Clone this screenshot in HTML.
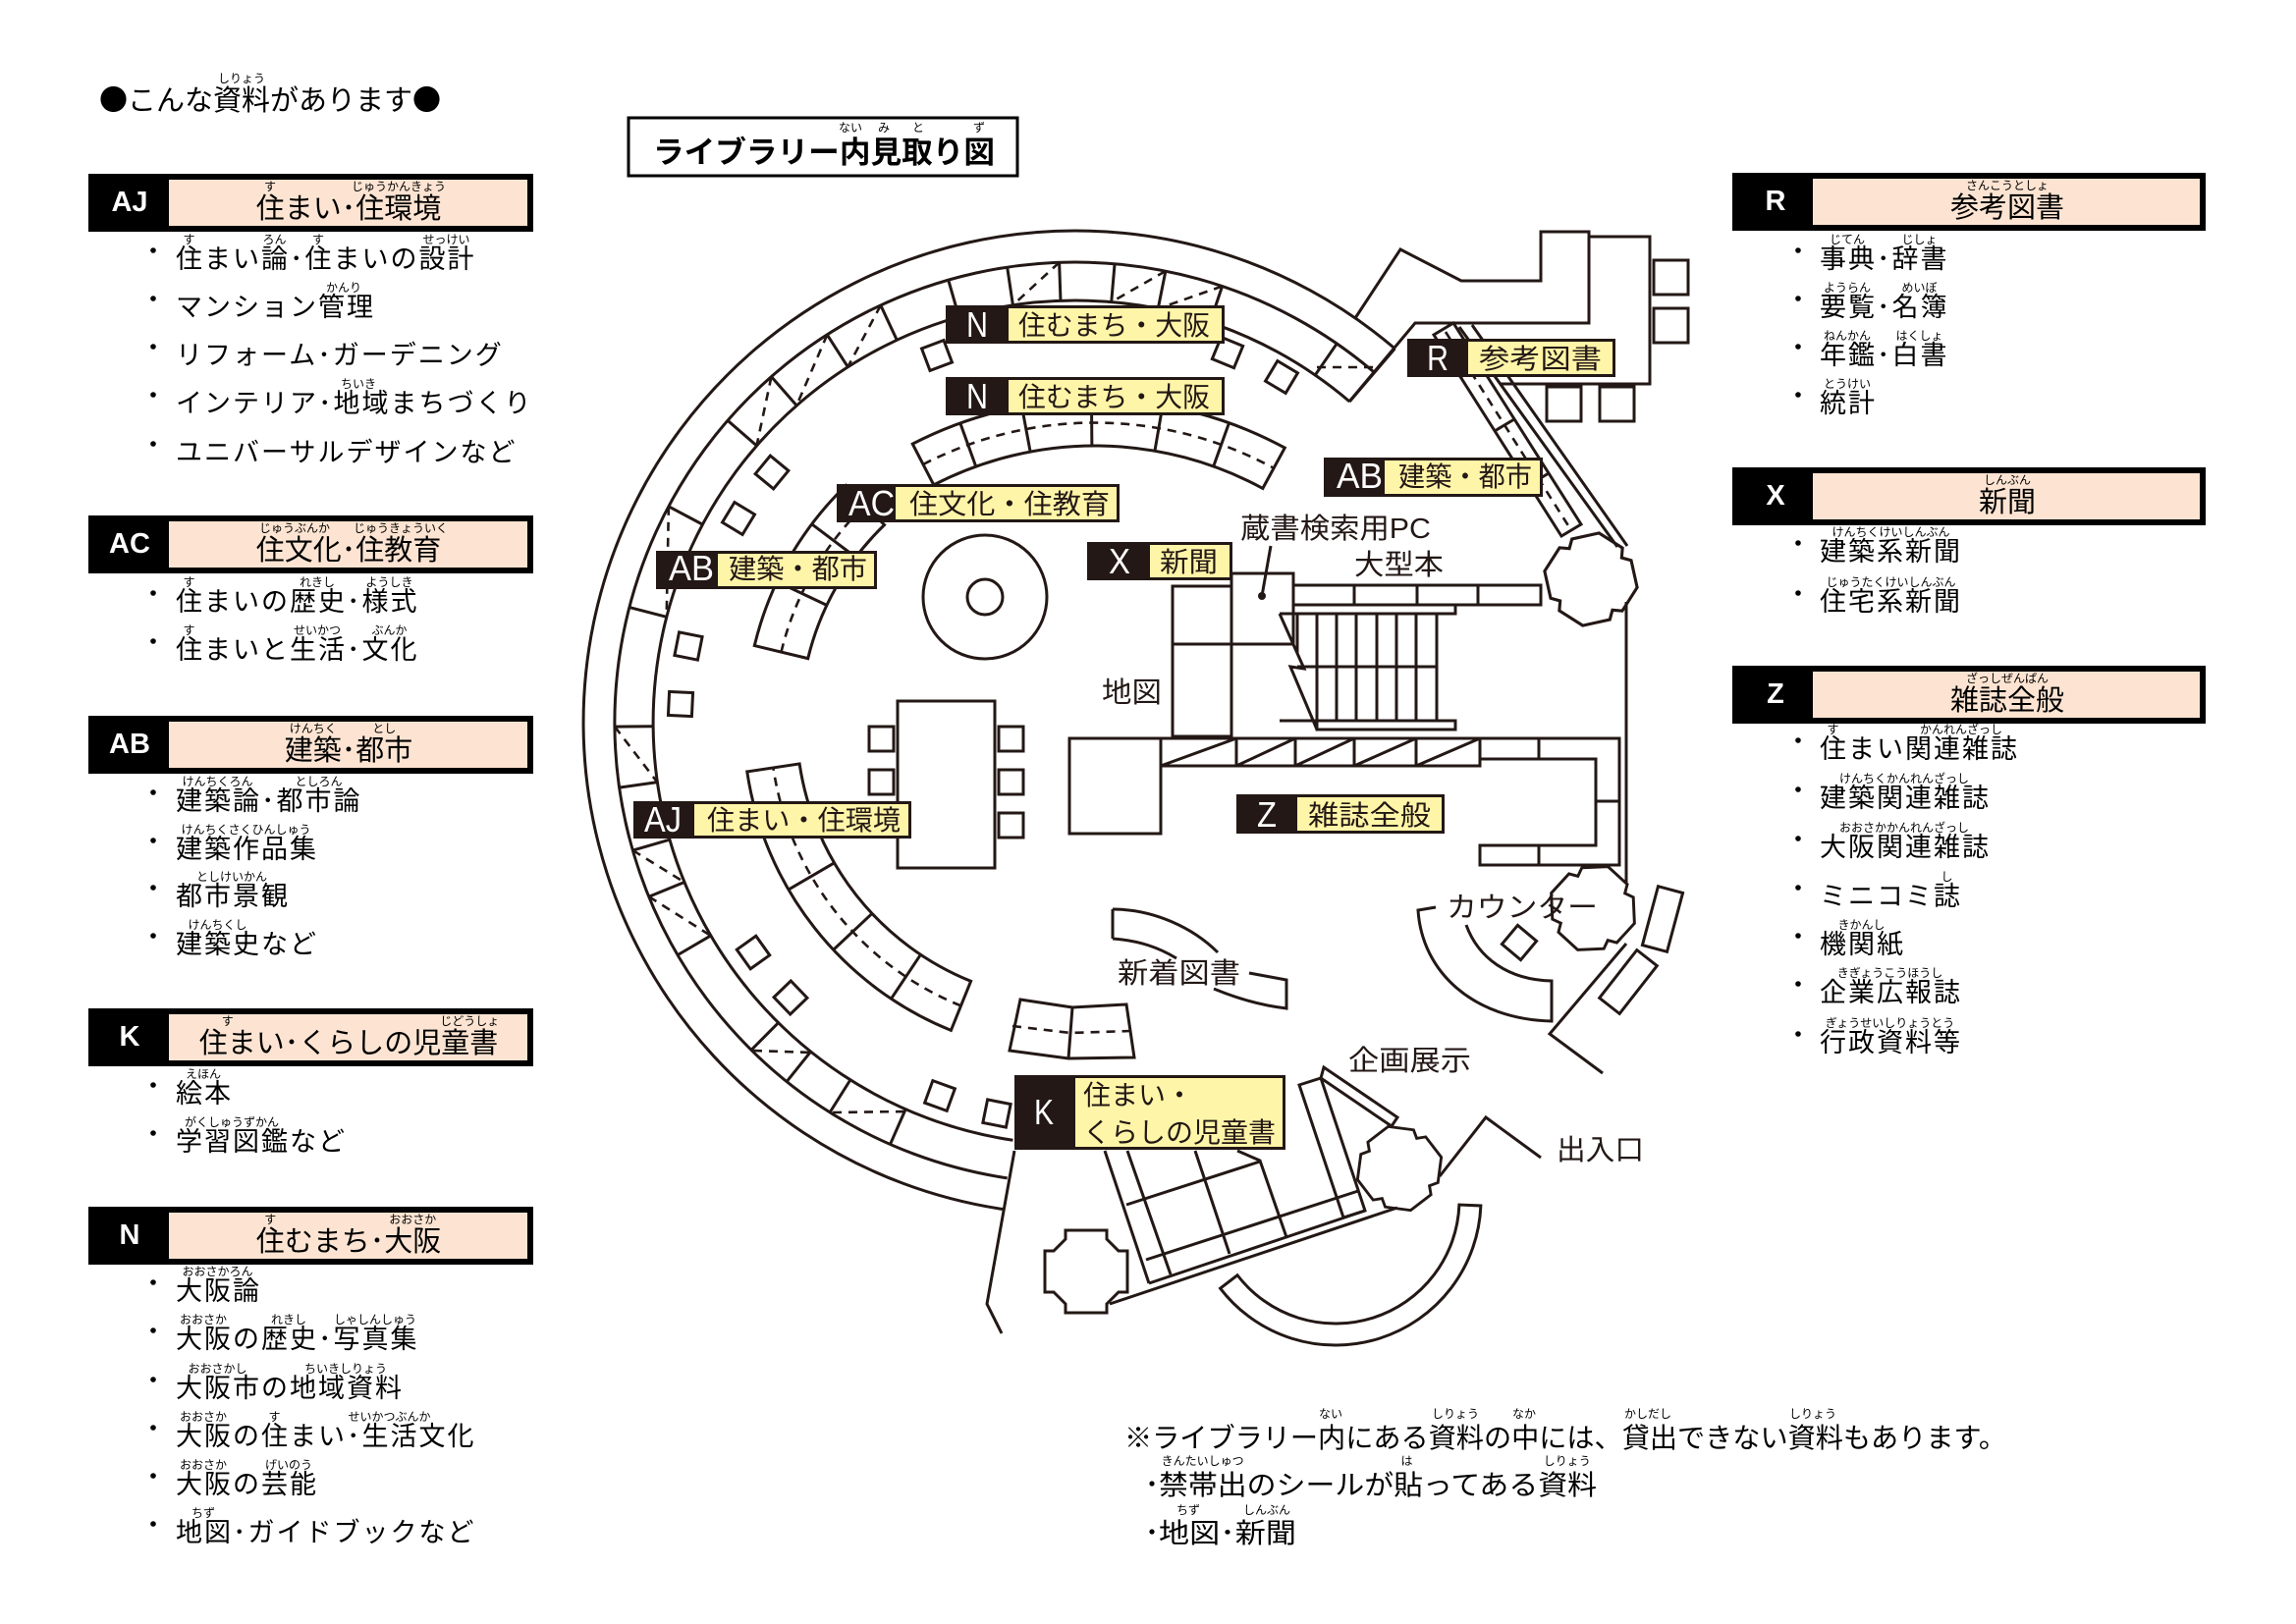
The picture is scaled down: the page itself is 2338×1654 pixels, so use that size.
<!DOCTYPE html>
<html lang="ja">
<head>
<meta charset="utf-8">
<title>ライブラリー内見取り図</title>
<style>
html,body{margin:0;padding:0;background:#fff;}
body{width:2338px;height:1654px;overflow:hidden;}
svg{display:block;}
svg text{font-family:"Liberation Sans","Noto Sans CJK JP",sans-serif;}
.t{font-size:27px;letter-spacing:2px;fill:#000;}
.h{font-size:29px;fill:#000;}
.tt{font-family:"Noto Sans CJK JP","Liberation Sans",sans-serif !important;font-size:29px;fill:#000;}
.f{font-size:12px;fill:#000;text-anchor:middle;}
.L{font-family:"Liberation Sans",sans-serif;font-weight:bold;font-size:29px;fill:#fff;text-anchor:middle;}
.ln{fill:none;stroke:#231815;stroke-width:3;}
.ds{fill:none;stroke:#231815;stroke-width:2.6;stroke-dasharray:9 7;}
.pw{font-family:"Liberation Sans",sans-serif;font-size:36px;fill:#fff;}
.py{font-size:28px;fill:#231815;}
.pl{font-size:29px;fill:#231815;}
</style>
</head>
<body>
<svg width="2338" height="1654" viewBox="0 0 2338 1654" xmlns="http://www.w3.org/2000/svg">
<rect x="0" y="0" width="2338" height="1654" fill="#fff"/>

<!-- ===== Title ===== -->
<text class="tt" x="101" y="112">●こんな資料があります●</text>
<text class="f" x="246" y="84">しりょう</text>

<!-- ===== LEFT LEGEND ===== -->
<!-- AJ -->
<rect x="90" y="177" width="453" height="59" fill="#000"/>
<rect x="172" y="183" width="365" height="47" fill="#fde4d2"/>
<text class="L" x="132" y="215">AJ</text>
<text class="h" x="355" y="222" text-anchor="middle">住まい･住環境</text>
<text class="f" x="275" y="194">す</text><text class="f" x="406" y="194">じゅうかんきょう</text>
<g fill="#000"><circle cx="156" cy="255" r="2.8"/><circle cx="156" cy="304" r="2.8"/><circle cx="156" cy="353" r="2.8"/><circle cx="156" cy="402" r="2.8"/><circle cx="156" cy="452" r="2.8"/></g>
<text class="t" x="179" y="273">住まい論･住まいの設計</text>
<text class="f" x="192.5" y="248">す</text><text class="f" x="279.5" y="248">ろん</text><text class="f" x="324" y="248">す</text><text class="f" x="454.5" y="248">せっけい</text>
<text class="t" x="179" y="322">マンション管理</text>
<text class="f" x="350" y="297">かんり</text>
<text class="t" x="179" y="371">リフォーム･ガーデニング</text>
<text class="t" x="179" y="420">インテリア･地域まちづくり</text>
<text class="f" x="365" y="395">ちいき</text>
<text class="t" x="179" y="470">ユニバーサルデザインなど</text>

<!-- AC -->
<rect x="90" y="525" width="453" height="59" fill="#000"/>
<rect x="172" y="531" width="365" height="47" fill="#fde4d2"/>
<text class="L" x="132" y="563">AC</text>
<text class="h" x="355" y="570" text-anchor="middle">住文化･住教育</text>
<text class="f" x="300" y="542">じゅうぶんか</text><text class="f" x="408" y="542">じゅうきょういく</text>
<g fill="#000"><circle cx="156" cy="604" r="2.8"/><circle cx="156" cy="653" r="2.8"/></g>
<text class="t" x="179" y="622">住まいの歴史･様式</text>
<text class="f" x="192.5" y="597">す</text><text class="f" x="323" y="597">れきし</text><text class="f" x="396.5" y="597">ようしき</text>
<text class="t" x="179" y="671">住まいと生活･文化</text>
<text class="f" x="192.5" y="646">す</text><text class="f" x="323" y="646">せいかつ</text><text class="f" x="396.5" y="646">ぶんか</text>

<!-- AB -->
<rect x="90" y="729" width="453" height="59" fill="#000"/>
<rect x="172" y="735" width="365" height="47" fill="#fde4d2"/>
<text class="L" x="132" y="767">AB</text>
<text class="h" x="355" y="774" text-anchor="middle">建築･都市</text>
<text class="f" x="318.75" y="746">けんちく</text><text class="f" x="391.25" y="746">とし</text>
<g fill="#000"><circle cx="156" cy="807" r="2.8"/><circle cx="156" cy="856" r="2.8"/><circle cx="156" cy="904" r="2.8"/><circle cx="156" cy="953" r="2.8"/></g>
<text class="t" x="179" y="825">建築論･都市論</text>
<text class="f" x="221.5" y="800">けんちくろん</text><text class="f" x="324.5" y="800">としろん</text>
<text class="t" x="179" y="874">建築作品集</text>
<text class="f" x="250.5" y="849">けんちくさくひんしゅう</text>
<text class="t" x="179" y="922">都市景観</text>
<text class="f" x="236" y="897">としけいかん</text>
<text class="t" x="179" y="971">建築史など</text>
<text class="f" x="221.5" y="946">けんちくし</text>

<!-- K -->
<rect x="90" y="1027" width="453" height="59" fill="#000"/>
<rect x="172" y="1033" width="365" height="47" fill="#fde4d2"/>
<text class="L" x="132" y="1065">K</text>
<text class="h" x="355" y="1072" text-anchor="middle">住まい･くらしの児童書</text>
<text class="f" x="231.75" y="1044">す</text><text class="f" x="478.25" y="1044">じどうしょ</text>
<g fill="#000"><circle cx="156" cy="1105" r="2.8"/><circle cx="156" cy="1154" r="2.8"/></g>
<text class="t" x="179" y="1123">絵本</text>
<text class="f" x="207" y="1098">えほん</text>
<text class="t" x="179" y="1172">学習図鑑など</text>
<text class="f" x="236" y="1147">がくしゅうずかん</text>

<!-- N -->
<rect x="90" y="1229" width="453" height="59" fill="#000"/>
<rect x="172" y="1235" width="365" height="47" fill="#fde4d2"/>
<text class="L" x="132" y="1267">N</text>
<text class="h" x="355" y="1274" text-anchor="middle">住むまち･大阪</text>
<text class="f" x="275.25" y="1246">す</text><text class="f" x="420.25" y="1246">おおさか</text>
<g fill="#000"><circle cx="156" cy="1306" r="2.8"/><circle cx="156" cy="1355" r="2.8"/><circle cx="156" cy="1405" r="2.8"/><circle cx="156" cy="1454" r="2.8"/><circle cx="156" cy="1503" r="2.8"/><circle cx="156" cy="1552" r="2.8"/></g>
<text class="t" x="179" y="1324">大阪論</text>
<text class="f" x="221.5" y="1299">おおさかろん</text>
<text class="t" x="179" y="1373">大阪の歴史･写真集</text>
<text class="f" x="207" y="1348">おおさか</text><text class="f" x="294" y="1348">れきし</text><text class="f" x="382" y="1348">しゃしんしゅう</text>
<text class="t" x="179" y="1423">大阪市の地域資料</text>
<text class="f" x="221.5" y="1398">おおさかし</text><text class="f" x="352" y="1398">ちいきしりょう</text>
<text class="t" x="179" y="1472">大阪の住まい･生活文化</text>
<text class="f" x="207" y="1447">おおさか</text><text class="f" x="279.5" y="1447">す</text><text class="f" x="396.5" y="1447">せいかつぶんか</text>
<text class="t" x="179" y="1521">大阪の芸能</text>
<text class="f" x="207" y="1496">おおさか</text><text class="f" x="294" y="1496">げいのう</text>
<text class="t" x="179" y="1570">地図･ガイドブックなど</text>
<text class="f" x="207" y="1545">ちず</text>

<!-- ===== RIGHT LEGEND ===== -->
<!-- R -->
<rect x="1764" y="176" width="482" height="59" fill="#000"/>
<rect x="1846" y="182" width="394" height="47" fill="#fde4d2"/>
<text class="L" x="1808" y="214">R</text>
<text class="h" x="2044" y="221" text-anchor="middle">参考図書</text>
<text class="f" x="2044" y="193">さんこうとしょ</text>
<g fill="#000"><circle cx="1831" cy="255" r="2.8"/><circle cx="1831" cy="304" r="2.8"/><circle cx="1831" cy="353" r="2.8"/><circle cx="1831" cy="402" r="2.8"/></g>
<text class="t" x="1853" y="273">事典･辞書</text>
<text class="f" x="1881" y="248">じてん</text><text class="f" x="1954.5" y="248">じしょ</text>
<text class="t" x="1853" y="322">要覧･名簿</text>
<text class="f" x="1881" y="297">ようらん</text><text class="f" x="1954.5" y="297">めいぼ</text>
<text class="t" x="1853" y="371">年鑑･白書</text>
<text class="f" x="1881" y="346">ねんかん</text><text class="f" x="1954.5" y="346">はくしょ</text>
<text class="t" x="1853" y="420">統計</text>
<text class="f" x="1881" y="395">とうけい</text>

<!-- X -->
<rect x="1764" y="476" width="482" height="59" fill="#000"/>
<rect x="1846" y="482" width="394" height="47" fill="#fde4d2"/>
<text class="L" x="1808" y="514">X</text>
<text class="h" x="2044" y="521" text-anchor="middle">新聞</text>
<text class="f" x="2044" y="493">しんぶん</text>
<g fill="#000"><circle cx="1831" cy="553" r="2.8"/><circle cx="1831" cy="604" r="2.8"/></g>
<text class="t" x="1853" y="571">建築系新聞</text>
<text class="f" x="1925.5" y="546">けんちくけいしんぶん</text>
<text class="t" x="1853" y="622">住宅系新聞</text>
<text class="f" x="1925.5" y="597">じゅうたくけいしんぶん</text>

<!-- Z -->
<rect x="1764" y="678" width="482" height="59" fill="#000"/>
<rect x="1846" y="684" width="394" height="47" fill="#fde4d2"/>
<text class="L" x="1808" y="716">Z</text>
<text class="h" x="2044" y="723" text-anchor="middle">雑誌全般</text>
<text class="f" x="2044" y="695">ざっしぜんぱん</text>
<g fill="#000"><circle cx="1831" cy="754" r="2.8"/><circle cx="1831" cy="804" r="2.8"/><circle cx="1831" cy="854" r="2.8"/><circle cx="1831" cy="904" r="2.8"/><circle cx="1831" cy="953" r="2.8"/><circle cx="1831" cy="1002" r="2.8"/><circle cx="1831" cy="1053" r="2.8"/></g>
<text class="t" x="1853" y="772">住まい関連雑誌</text>
<text class="f" x="1866.5" y="747">す</text><text class="f" x="1997" y="747">かんれんざっし</text>
<text class="t" x="1853" y="822">建築関連雑誌</text>
<text class="f" x="1939" y="797">けんちくかんれんざっし</text>
<text class="t" x="1853" y="872">大阪関連雑誌</text>
<text class="f" x="1939" y="847">おおさかかんれんざっし</text>
<text class="t" x="1853" y="922">ミニコミ誌</text>
<text class="f" x="1982.5" y="897">し</text>
<text class="t" x="1853" y="971">機関紙</text>
<text class="f" x="1895.5" y="946">きかんし</text>
<text class="t" x="1853" y="1020">企業広報誌</text>
<text class="f" x="1924.5" y="995">きぎょうこうほうし</text>
<text class="t" x="1853" y="1071">行政資料等</text>
<text class="f" x="1924.5" y="1046">ぎょうせいしりょうとう</text>

<!-- ===== Bottom note ===== -->
<text x="1145" y="1474" font-size="28" textLength="898" lengthAdjust="spacingAndGlyphs" fill="#000">※ライブラリー内にある資料の中には、貸出できない資料もあります。</text>
<text class="f" x="1355" y="1444">ない</text><text class="f" x="1482" y="1444">しりょう</text><text class="f" x="1552" y="1444">なか</text><text class="f" x="1678" y="1444">かしだし</text><text class="f" x="1846" y="1444">しりょう</text>
<circle cx="1173" cy="1511" r="2.6" fill="#000"/>
<text x="1180" y="1522" font-size="28" textLength="446" lengthAdjust="spacingAndGlyphs" fill="#000">禁帯出のシールが貼ってある資料</text>
<text class="f" x="1224.6" y="1492">きんたいしゅつ</text><text class="f" x="1432.5" y="1492">は</text><text class="f" x="1595.8" y="1492">しりょう</text>
<circle cx="1173" cy="1560" r="2.6" fill="#000"/>
<text x="1180" y="1571" font-size="28" textLength="140" lengthAdjust="spacingAndGlyphs" fill="#000">地図･新聞</text>
<text class="f" x="1210" y="1542">ちず</text><text class="f" x="1290" y="1542">しんぶん</text>

<!-- ===== Map title box ===== -->
<rect x="640" y="120" width="396" height="59" fill="none" stroke="#000" stroke-width="3"/>
<text x="665" y="166" font-size="31" font-weight="bold" textLength="348" lengthAdjust="spacingAndGlyphs" fill="#000">ライブラリー内見取り図</text>
<text class="f" x="866" y="134">ない</text><text class="f" x="900" y="134">み</text><text class="f" x="935" y="134">と</text><text class="f" x="997" y="134">ず</text>

<!-- ===== FLOOR PLAN ===== -->
<!-- main ring -->
<g transform="translate(1095 736)">
  <g transform="rotate(98.5)">
    <path class="ln" d="M501,0 A501,501 0 1 1 -424.9,-265.5"/>
    <path class="ln" d="M469,0 A469,469 0 1 1 -397.7,-248.5"/>
    <path class="ln" d="M430,0 A430,430 0 1 1 -364.7,-227.9"/>
  </g>
  <line class="ln" x1="430" y1="0" x2="501" y2="0" transform="rotate(-49.5)"/>
  <g class="ln">
    <line x1="430" y1="0" x2="469" y2="0" transform="rotate(-55.4)"/>
    <line x1="430" y1="0" x2="469" y2="0" transform="rotate(-71.4)"/>
    <line x1="430" y1="0" x2="469" y2="0" transform="rotate(-78.7)"/>
    <line x1="430" y1="0" x2="469" y2="0" transform="rotate(-85.1)"/>
    <line x1="430" y1="0" x2="469" y2="0" transform="rotate(-92)"/>
    <line x1="430" y1="0" x2="469" y2="0" transform="rotate(-98.5)"/>
    <line x1="430" y1="0" x2="469" y2="0" transform="rotate(-106)"/>
    <line x1="430" y1="0" x2="469" y2="0" transform="rotate(-115)"/>
    <line x1="430" y1="0" x2="469" y2="0" transform="rotate(-122.6)"/>
    <line x1="430" y1="0" x2="469" y2="0" transform="rotate(-131.3)"/>
    <line x1="430" y1="0" x2="469" y2="0" transform="rotate(-139)"/>
    <line x1="430" y1="0" x2="469" y2="0" transform="rotate(-152)"/>
    <line x1="430" y1="0" x2="469" y2="0" transform="rotate(-165.5)"/>
    <line x1="430" y1="0" x2="469" y2="0" transform="rotate(-180.5)"/>
    <line x1="430" y1="0" x2="469" y2="0" transform="rotate(-188.1)"/>
    <line x1="430" y1="0" x2="469" y2="0" transform="rotate(-196.1)"/>
    <line x1="430" y1="0" x2="469" y2="0" transform="rotate(-202.2)"/>
    <line x1="430" y1="0" x2="469" y2="0" transform="rotate(-210.3)"/>
    <line x1="430" y1="0" x2="469" y2="0" transform="rotate(-225.3)"/>
    <line x1="430" y1="0" x2="469" y2="0" transform="rotate(-231.2)"/>
    <line x1="430" y1="0" x2="469" y2="0" transform="rotate(-237.8)"/>
    <line x1="430" y1="0" x2="469" y2="0" transform="rotate(-246.3)"/>
  </g>
  <g class="ds">
    <line x1="469" y1="0" x2="426.5" y2="-54.6" transform="rotate(-71.4)"/>
    <line x1="469" y1="0" x2="427.3" y2="-47.9" transform="rotate(-78.7)"/>
    <line x1="469" y1="0" x2="427.2" y2="-48.7" transform="rotate(-92)"/>
    <line x1="469" y1="0" x2="426.2" y2="-56.9" transform="rotate(-115)"/>
    <line x1="469" y1="0" x2="425.1" y2="-65.0" transform="rotate(-122.6)"/>
    <line x1="469" y1="0" x2="426.1" y2="-57.6" transform="rotate(-131.3)"/>
    <line x1="469" y1="0" x2="418.1" y2="-100.4" transform="rotate(-152)"/>
    <line x1="469" y1="0" x2="426.2" y2="-56.9" transform="rotate(-180.5)"/>
    <line x1="469" y1="0" x2="427.6" y2="-45.7" transform="rotate(-196.1)"/>
    <line x1="469" y1="0" x2="425.7" y2="-60.6" transform="rotate(-202.2)"/>
  </g>
</g>
<g class="ds">
  <line x1="1341" y1="374" x2="1404" y2="374"/>
  <line x1="767" y1="1070" x2="827" y2="1072"/>
  <line x1="848" y1="1133" x2="923" y2="1132"/>
</g>

<!-- chairs along the ring -->
<g class="ln">
  <rect x="-12" y="-12" width="24" height="24" transform="translate(954 362) rotate(-110.7)"/>
  <rect x="-12" y="-12" width="24" height="24" transform="translate(1250 359) rotate(-67.6)"/>
  <rect x="-12" y="-12" width="24" height="24" transform="translate(1305 384) rotate(-59.2)"/>
  <rect x="-12" y="-12" width="24" height="24" transform="translate(786 481) rotate(-140.5)"/>
  <rect x="-12" y="-12" width="24" height="24" transform="translate(752 528) rotate(-148.8)"/>
  <rect x="-12" y="-12" width="24" height="24" transform="translate(701 658) rotate(-168.8)"/>
  <rect x="-12" y="-12" width="24" height="24" transform="translate(693 717) rotate(-177.3)"/>
  <rect x="-12" y="-12" width="24" height="24" transform="translate(767 970) rotate(144.5)"/>
  <rect x="-12" y="-12" width="24" height="24" transform="translate(805 1016) rotate(136)"/>
  <rect x="-12" y="-12" width="24" height="24" transform="translate(957 1116) rotate(110)"/>
  <rect x="-12" y="-12" width="24" height="24" transform="translate(1015 1134) rotate(101.4)"/>
</g>

<!-- N inner shelf -->
<g transform="translate(1115 812) rotate(-117.3)">
  <path class="ln" d="M358,0 A358,358 0 0 1 201.2,296.1 L227.6,335.0 A405,405 0 0 0 405,0 Z"/>
  <g class="ln">
    <line x1="358" y1="0" x2="405" y2="0" transform="rotate(7.5)"/>
    <line x1="358" y1="0" x2="405" y2="0" transform="rotate(16.7)"/>
    <line x1="358" y1="0" x2="405" y2="0" transform="rotate(26.8)"/>
    <line x1="358" y1="0" x2="405" y2="0" transform="rotate(37.1)"/>
    <line x1="358" y1="0" x2="405" y2="0" transform="rotate(47)"/>
  </g>
  <path class="ds" d="M381.5,0 A381.5,381.5 0 0 1 214.4,315.5"/>
</g>

<!-- AC shelf -->
<g transform="translate(1095 736) rotate(-166.5)">
  <path class="ln" d="M280,0 A280,280 0 0 1 236.1,150.4 L283.4,180.5 A336,336 0 0 0 336,0 Z"/>
  <g class="ln">
    <line x1="280" y1="0" x2="336" y2="0" transform="rotate(11.8)"/>
    <line x1="280" y1="0" x2="336" y2="0" transform="rotate(23.5)"/>
  </g>
  <path class="ds" d="M308,0 A308,308 0 0 1 259.8,165.5"/>
</g>

<!-- AJ shelf -->
<g transform="translate(1095 736) rotate(112)">
  <path class="ln" d="M284,0 A284,284 0 0 1 144.1,244.7 L171.5,291.2 A338,338 0 0 0 338,0 Z"/>
  <g class="ln">
    <line x1="284" y1="0" x2="338" y2="0" transform="rotate(11.7)"/>
    <line x1="284" y1="0" x2="338" y2="0" transform="rotate(24.8)"/>
    <line x1="284" y1="0" x2="338" y2="0" transform="rotate(37.8)"/>
  </g>
  <path class="ds" d="M311,0 A311,311 0 0 1 157.8,268.0"/>
</g>

<!-- centre round table -->
<circle class="ln" cx="1003" cy="608" r="63"/>
<circle class="ln" cx="1003" cy="608" r="18"/>

<!-- big table & chairs -->
<g class="ln">
  <rect x="914" y="714" width="99" height="170"/>
  <rect x="885" y="740" width="25" height="25"/>
  <rect x="885" y="784" width="25" height="25"/>
  <rect x="1017" y="740" width="25" height="25"/>
  <rect x="1017" y="784" width="25" height="25"/>
  <rect x="1017" y="828" width="25" height="25"/>
</g>

<!-- stairs / PC block -->
<g class="ln">
  <rect x="1194" y="597" width="60" height="153"/>
  <rect x="1254" y="584" width="63" height="72"/>
  <line x1="1194" y1="656" x2="1317" y2="656"/>
  <line x1="1285" y1="607" x2="1294" y2="556"/>
  <rect x="1317" y="596" width="252" height="20"/>
  <line x1="1379" y1="596" x2="1379" y2="616"/>
  <line x1="1443" y1="596" x2="1443" y2="616"/>
  <line x1="1505" y1="596" x2="1505" y2="616"/>
  <polyline points="1317,616 1482,616 1482,625 1303,625"/>
  <line x1="1321" y1="625" x2="1321" y2="665"/>
  <line x1="1341" y1="625" x2="1341" y2="734"/>
  <line x1="1361" y1="625" x2="1361" y2="734"/>
  <line x1="1381" y1="625" x2="1381" y2="734"/>
  <line x1="1402" y1="625" x2="1402" y2="734"/>
  <line x1="1422" y1="625" x2="1422" y2="734"/>
  <line x1="1442" y1="625" x2="1442" y2="734"/>
  <line x1="1463" y1="625" x2="1463" y2="734"/>
  <line x1="1321" y1="679" x2="1463" y2="679"/>
  <line x1="1303" y1="734" x2="1482" y2="734"/>
  <rect x="1341" y="734" width="141" height="9"/>
  <polyline points="1303,625 1328,681 1314,679 1341,743"/>
</g>
<circle cx="1285" cy="607" r="4" fill="#231815"/>

<!-- magazine shelves (Z) -->
<g class="ln">
  <rect x="1089" y="752" width="93" height="97"/>
  <rect x="1182" y="752" width="325" height="28"/>
  <line x1="1259" y1="752" x2="1259" y2="780"/>
  <line x1="1319" y1="752" x2="1319" y2="780"/>
  <line x1="1379" y1="752" x2="1379" y2="780"/>
  <line x1="1442" y1="752" x2="1442" y2="780"/>
  <line x1="1182" y1="780" x2="1259" y2="752"/>
  <line x1="1259" y1="780" x2="1319" y2="752"/>
  <line x1="1319" y1="780" x2="1379" y2="752"/>
  <line x1="1379" y1="780" x2="1442" y2="752"/>
  <line x1="1442" y1="780" x2="1507" y2="752"/>
  <polyline points="1507,752 1649,752 1649,881 1507,881 1507,861 1625,861 1625,773 1507,773"/>
  <line x1="1567" y1="752" x2="1567" y2="773"/>
  <line x1="1567" y1="861" x2="1567" y2="881"/>
  <line x1="1625" y1="816" x2="1649" y2="816"/>
  <line x1="1656" y1="613" x2="1656" y2="900"/>
</g>

<!-- R area -->
<g class="ln">
  <polyline points="1380,324 1426,254 1488,286 1569,286 1569,236 1618,236 1618,329 1441,329 1374,409"/>
  <polyline points="1618,241 1680,241 1680,391 1528,391"/>
  <rect x="1684" y="265" width="35" height="35"/>
  <rect x="1684" y="314" width="35" height="35"/>
  <rect x="1575" y="394" width="35" height="35"/>
  <rect x="1629" y="394" width="35" height="35"/>
  <line x1="1486" y1="333" x2="1647" y2="557"/>
  <line x1="1499" y1="331" x2="1657" y2="556"/>
  <polygon points="1460,341 1590,546 1610,534 1480,329"/>
  <line x1="1487" y1="384" x2="1507" y2="372"/>
  <line x1="1522" y1="439" x2="1542" y2="427"/>
  <line x1="1557" y1="494" x2="1577" y2="482"/>
</g>
<line class="ds" x1="1472" y1="338" x2="1598" y2="537"/>

<!-- gears / pillars -->
<g class="ln">
  <path transform="translate(1620 590) rotate(10) scale(1.04)" d="M46,0 L35.6,25.1 L26,26 L25.1,35.6 L0,46 L-25.1,35.6 L-26,26 L-35.6,25.1 L-46,0 L-35.6,-25.1 L-26,-26 L-25.1,-35.6 L0,-46 L25.1,-35.6 L26,-26 L35.6,-25.1 Z"/>
  <path transform="translate(1622 925) rotate(20) scale(0.98)" d="M46,0 L35.6,25.1 L26,26 L25.1,35.6 L0,46 L-25.1,35.6 L-26,26 L-35.6,25.1 L-46,0 L-35.6,-25.1 L-26,-26 L-25.1,-35.6 L0,-46 L25.1,-35.6 L26,-26 L35.6,-25.1 Z"/>
  <path transform="translate(1425 1190) rotate(-15) scale(0.96)" d="M46,0 L35.6,25.1 L26,26 L25.1,35.6 L0,46 L-25.1,35.6 L-26,26 L-35.6,25.1 L-46,0 L-35.6,-25.1 L-26,-26 L-25.1,-35.6 L0,-46 L25.1,-35.6 L26,-26 L35.6,-25.1 Z"/>
  <path transform="translate(1106 1295)" d="M-21,-42 L21,-42 L21,-33 L33,-21 L42,-21 L42,21 L33,21 L21,33 L21,42 L-21,42 L-21,33 L-33,21 L-42,21 L-42,-21 L-33,-21 L-21,-33 Z"/>
</g>

<!-- new books shelf -->
<g class="ln">
  <path d="M1133,926 C1175,926 1215,945 1240,970"/>
  <path d="M1133,956 C1160,958 1180,965 1198,976"/>
  <line x1="1133" y1="926" x2="1133" y2="956"/>
  <path d="M1272,991 L1310,998 L1310,1027 C1285,1024 1260,1017 1236,1007"/>
</g>

<!-- small two-bay shelf -->
<g class="ln">
  <path d="M1039,1018 L1092,1026 L1147,1023 L1155,1077 L1088,1078 L1028,1070 Z"/>
  <line x1="1092" y1="1026" x2="1088" y2="1078"/>
</g>
<polyline class="ds" points="1031,1045 1090,1052 1151,1050"/>

<!-- counter -->
<g class="ln">
  <path d="M1462,924 L1444,927 C1448,990 1500,1038 1580,1040 L1580,999 C1535,998 1505,975 1493,942"/>
  <rect x="-12.5" y="-12.5" width="25" height="25" transform="translate(1547 960) rotate(40)"/>
  <rect x="-13" y="-31" width="26" height="62" transform="translate(1693 936) rotate(15)"/>
  <rect x="-13" y="-31" width="26" height="62" transform="translate(1658 1000) rotate(38)"/>
  <polyline points="1656,961 1578,1053 1632,1093"/>
  <polyline points="1466,1198 1513,1138 1569,1179"/>
</g>

<!-- exhibition strips -->
<g class="ln">
  <polygon points="1323,1105 1345,1098 1390,1233 1368,1240"/>
  <polygon points="1345,1098 1348,1087 1423,1138 1417,1147"/>
</g>

<!-- K children's area -->
<g class="ln">
  <line x1="1125" y1="1172" x2="1170" y2="1307"/>
  <line x1="1148" y1="1172" x2="1192" y2="1298"/>
  <line x1="1217" y1="1172" x2="1252" y2="1277"/>
  <polyline points="1260,1172 1283,1182 1310,1260"/>
  <line x1="1147" y1="1227" x2="1283" y2="1183"/>
  <line x1="1167" y1="1283" x2="1383" y2="1213"/>
  <line x1="1170" y1="1307" x2="1390" y2="1233"/>
  <line x1="1130" y1="1328" x2="1423" y2="1230"/>
  <polyline points="1033,1172 1005,1328 1020,1358"/>
</g>

<!-- bottom arc -->
<g transform="translate(1360 1222) rotate(2.3)">
  <path class="ln" d="M148,0 A148,148 0 0 1 -113.7,94.8 L-96.8,80.7 A126,126 0 0 0 126,0 Z"/>
</g>

<!-- ===== plan labels (dark + yellow) ===== -->
<!-- N1 -->
<rect x="963" y="311" width="284" height="39" fill="#231815"/>
<rect x="1027" y="314" width="217" height="33" fill="#fff5a8"/>
<text class="pw" x="995" y="343" text-anchor="middle" textLength="22" lengthAdjust="spacingAndGlyphs">N</text>
<text class="py" x="1037" y="341" textLength="195" lengthAdjust="spacingAndGlyphs">住むまち・大阪</text>
<!-- N2 -->
<rect x="963" y="384" width="284" height="39" fill="#231815"/>
<rect x="1027" y="387" width="217" height="33" fill="#fff5a8"/>
<text class="pw" x="995" y="416" text-anchor="middle" textLength="22" lengthAdjust="spacingAndGlyphs">N</text>
<text class="py" x="1037" y="414" textLength="195" lengthAdjust="spacingAndGlyphs">住むまち・大阪</text>
<!-- AC -->
<rect x="852" y="493" width="288" height="39" fill="#231815"/>
<rect x="912" y="496" width="225" height="33" fill="#fff5a8"/>
<text class="pw" x="864" y="525" textLength="47" lengthAdjust="spacingAndGlyphs">AC</text>
<text class="py" x="926" y="523" textLength="204" lengthAdjust="spacingAndGlyphs">住文化・住教育</text>
<!-- AB left -->
<rect x="668" y="561" width="225" height="39" fill="#231815"/>
<rect x="731" y="564" width="159" height="33" fill="#fff5a8"/>
<text class="pw" x="681" y="591" textLength="46" lengthAdjust="spacingAndGlyphs">AB</text>
<text class="py" x="742" y="589" textLength="141" lengthAdjust="spacingAndGlyphs">建築・都市</text>
<!-- X -->
<rect x="1107" y="552" width="148" height="39" fill="#231815"/>
<rect x="1171" y="555" width="81" height="33" fill="#fff5a8"/>
<text class="pw" x="1140" y="584" text-anchor="middle" textLength="22" lengthAdjust="spacingAndGlyphs">X</text>
<text class="py" x="1181" y="582" textLength="59" lengthAdjust="spacingAndGlyphs">新聞</text>
<!-- R -->
<rect x="1433" y="345" width="212" height="39" fill="#231815"/>
<rect x="1495" y="348" width="147" height="33" fill="#fff5a8"/>
<text class="pw" x="1464" y="377" text-anchor="middle" textLength="22" lengthAdjust="spacingAndGlyphs">R</text>
<text class="py" x="1506" y="375" textLength="125" lengthAdjust="spacingAndGlyphs">参考図書</text>
<!-- AB right -->
<rect x="1348" y="466" width="223" height="40" fill="#231815"/>
<rect x="1410" y="469" width="158" height="34" fill="#fff5a8"/>
<text class="pw" x="1361" y="497" textLength="47" lengthAdjust="spacingAndGlyphs">AB</text>
<text class="py" x="1424" y="495" textLength="136" lengthAdjust="spacingAndGlyphs">建築・都市</text>
<!-- AJ -->
<rect x="645" y="816" width="283" height="38" fill="#231815"/>
<rect x="707" y="819" width="218" height="32" fill="#fff5a8"/>
<text class="pw" x="656" y="847" textLength="38" lengthAdjust="spacingAndGlyphs">AJ</text>
<text class="py" x="720" y="845" textLength="197" lengthAdjust="spacingAndGlyphs">住まい・住環境</text>
<!-- Z -->
<rect x="1259" y="809" width="212" height="40" fill="#231815"/>
<rect x="1321" y="812" width="147" height="34" fill="#fff5a8"/>
<text class="pw" x="1290" y="842" text-anchor="middle" textLength="20" lengthAdjust="spacingAndGlyphs">Z</text>
<text class="py" x="1332" y="840" textLength="125" lengthAdjust="spacingAndGlyphs">雑誌全般</text>
<!-- K -->
<rect x="1033" y="1095" width="276" height="76" fill="#231815"/>
<rect x="1095" y="1098" width="211" height="70" fill="#fff5a8"/>
<text class="pw" x="1063" y="1145" text-anchor="middle" textLength="20" lengthAdjust="spacingAndGlyphs">K</text>
<text class="py" x="1103" y="1125">住まい・</text>
<text class="py" x="1103" y="1163" textLength="196" lengthAdjust="spacingAndGlyphs">くらしの児童書</text>

<!-- plain plan labels -->
<text class="pl" x="1263" y="548" textLength="194" lengthAdjust="spacingAndGlyphs">蔵書検索用PC</text>
<text class="pl" x="1379" y="585" textLength="91" lengthAdjust="spacingAndGlyphs">大型本</text>
<text class="pl" x="1122" y="715" textLength="61" lengthAdjust="spacingAndGlyphs">地図</text>
<text class="pl" x="1138" y="1001" textLength="125" lengthAdjust="spacingAndGlyphs">新着図書</text>
<text class="pl" x="1473" y="934" textLength="154" lengthAdjust="spacingAndGlyphs">カウンター</text>
<text class="pl" x="1373" y="1090" textLength="125" lengthAdjust="spacingAndGlyphs">企画展示</text>
<text class="pl" x="1585" y="1181" textLength="89" lengthAdjust="spacingAndGlyphs">出入口</text>
</svg>
</body>
</html>
